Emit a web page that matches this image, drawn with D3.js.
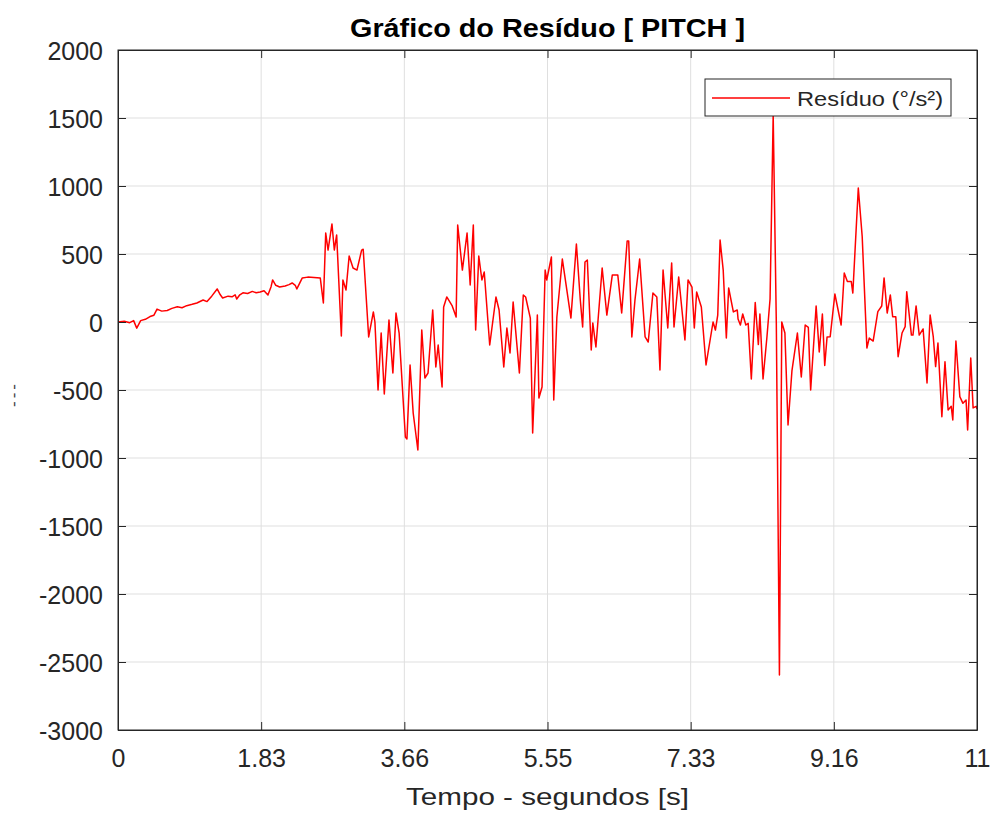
<!DOCTYPE html>
<html>
<head>
<meta charset="utf-8">
<script src="https://cdn.jsdelivr.net/npm/d3@7"></script>
<style>
  body { margin: 0; background: #fff; }
  svg { font-family: "Liberation Sans", Arial, sans-serif; }
  .grid line { stroke: #dfdfdf; stroke-width: 1; }
  .axis text { fill: #262626; font-size: 25px; }
</style>
</head>
<body>
<svg id="chart"></svg>
<script>
// time (s)
const timeS = [
  0, 0.08, 0.15, 0.20, 0.24, 0.29, 0.35, 0.41, 0.46, 0.50, 0.56, 0.63, 0.69, 0.76, 0.82, 0.88, 0.95, 1.01,
  1.09, 1.14, 1.20, 1.27, 1.31, 1.34, 1.41, 1.46, 1.50, 1.52, 1.56, 1.60, 1.66, 1.72, 1.77, 1.82, 1.87, 1.92,
  1.96, 1.98, 2.02, 2.07, 2.14, 2.19, 2.23, 2.27, 2.29, 2.33, 2.36, 2.43, 2.51, 2.59, 2.63, 2.66, 2.69, 2.74,
  2.77, 2.80, 2.86, 2.88, 2.92, 2.96, 3.01, 3.06, 3.12, 3.14, 3.21, 3.27, 3.29, 3.33, 3.37, 3.41, 3.47, 3.52,
  3.56, 3.60, 3.68, 3.70, 3.74, 3.78, 3.84, 3.89, 3.93, 3.97, 4.03, 4.07, 4.10, 4.15, 4.17, 4.21, 4.28, 4.33,
  4.35, 4.41, 4.47, 4.51, 4.55, 4.58, 4.62, 4.66, 4.69, 4.76, 4.84, 4.88, 4.94, 4.98, 5.02, 5.06, 5.14, 5.19,
  5.22, 5.28, 5.31, 5.37, 5.39, 5.43, 5.47, 5.49, 5.55, 5.58, 5.62, 5.69, 5.80, 5.87, 5.92, 5.95, 5.98, 6.01,
  6.06, 6.08, 6.12, 6.20, 6.26, 6.33, 6.40, 6.45, 6.52, 6.54, 6.58, 6.62, 6.68, 6.75, 6.79, 6.85, 6.90, 6.94,
  6.98, 7.04, 7.09, 7.12, 7.18, 7.26, 7.30, 7.35, 7.38, 7.41, 7.47, 7.53, 7.62, 7.65, 7.68, 7.71, 7.75, 7.79,
  7.82, 7.88, 7.93, 7.94, 7.97, 8.00, 8.04, 8.07, 8.11, 8.16, 8.20, 8.22, 8.26, 8.31, 8.35, 8.39, 8.43, 8.47,
  8.50, 8.54, 8.58, 8.63, 8.70, 8.75, 8.80, 8.84, 8.87, 8.94, 8.98, 9.02, 9.05, 9.08, 9.12, 9.18, 9.26, 9.30,
  9.34, 9.39, 9.41, 9.48, 9.53, 9.59, 9.62, 9.67, 9.73, 9.78, 9.81, 9.85, 9.89, 9.92, 9.96, 9.99, 10.04, 10.08,
  10.10, 10.16, 10.18, 10.22, 10.26, 10.31, 10.36, 10.40, 10.44, 10.47, 10.50, 10.55, 10.59, 10.63, 10.67,
  10.69, 10.73, 10.78, 10.82, 10.86, 10.88, 10.92, 10.95, 10.99, 11.00
];
// residual (°/s²)
const residuo = [
  0, 5, -5, 10, -45, 10, 20, 40, 50, 95, 80, 85, 100, 112, 105, 120, 130, 140,
  162, 150, 190, 243, 200, 177, 190, 185, 200, 169, 200, 215, 210, 225, 215, 221, 230, 198,
  260, 309, 270, 257, 265, 275, 287, 270, 243, 290, 324, 330, 328, 324, 140, 654, 529, 721,
  529, 640, -103, 309, 235, 485, 397, 382, 529, 535, -110, 74, 0, -500, -81, -529, 15, -375,
  66, -81, -845, -860, -316, -669, -941, -59, -412, -375, 88, -331, -169, -478, 110, 184, 118, 37,
  713, 382, 654, 272, 713, -59, 485, 309, 368, -169, 184, 88, -331, -44, -228, 147, -375, 198,
  184, 29, -816, 51, -559, -478, 382, 309, 478, -574, 37, 463, 29, 574, 162, -37, 441, 456,
  -206, -7, -184, 397, 51, 346, 346, 66, 596, 596, -110, 162, 463, -110, -147, 213, 184, -353,
  382, -44, 434, -37, 331, -132, 309, 257, -44, 221, 110, -316, 0, -59, 51, 603, 382, -118,
  250, 74, 88, 22, -22, 59, -22, -10, -419, 143, -166, 59, -419, -110, 169, 1522, 0, -2596,
  0, -81, -757, -360, -81, -404, -22, -40, -500, 118, -221, 59, -320, -110, -108, 206, -22, 360,
  297, 297, 213, 985, 627, -191, -118, -140, 76, 118, 324, 66, 199, 39, 39, -255, -81, -34,
  223, -96, -96, 118, -96, -51, -449, 51, -108, -328, -155, -696, -292, -647, -620,
  -720, -140, -549, -598, -574, -794, -265, -632, -620, -640
];

const xTickValues = [0, 11 / 6, 22 / 6, 33 / 6, 44 / 6, 55 / 6, 11];
const xTickLabels = ["0", "1.83", "3.66", "5.55", "7.33", "9.16", "11"];
const yTickValues = [-3000, -2500, -2000, -1500, -1000, -500, 0, 500, 1000, 1500, 2000];

const chartTitle = "Gráfico do Resíduo [ PITCH ]";
const xLabel = "Tempo - segundos [s]";
const yLabel = "---";
const seriesName = "Resíduo (°/s²)";

const config = {
  width: 995, height: 814,
  margin: {top: 50, right: 18, bottom: 84, left: 118}
};

const data = timeS.map((t, i) => ({t: t, v: residuo[i]}));

const svg = d3.select("#chart")
    .attr("width", config.width)
    .attr("height", config.height);

const w = config.width - config.margin.left - config.margin.right;
const h = config.height - config.margin.top - config.margin.bottom;

const chart = svg.append("g")
    .attr("transform", `translate(${config.margin.left},${config.margin.top})`);

const xScale = d3.scaleLinear().domain([0, 11]).range([0, w]);
const yScale = d3.scaleLinear().domain([-3000, 2000]).range([h, 0]);

// grid
const grid = chart.append("g").attr("class", "grid");
grid.selectAll("line.gx").data(xTickValues.slice(1, -1)).join("line")
    .attr("class", "gx")
    .attr("x1", d => xScale(d)).attr("x2", d => xScale(d))
    .attr("y1", 0).attr("y2", h);
grid.selectAll("line.gy").data(yTickValues.slice(1, -1)).join("line")
    .attr("class", "gy")
    .attr("x1", 0).attr("x2", w)
    .attr("y1", d => yScale(d)).attr("y2", d => yScale(d));

// series
const line = d3.line().x(d => xScale(d.t)).y(d => yScale(d.v));
chart.append("path")
    .datum(data)
    .attr("fill", "none")
    .attr("stroke", "#ff0000")
    .attr("stroke-width", 1.5)
    .attr("stroke-linejoin", "round")
    .attr("d", line);

// axes, ticks pointing inward like matlab
const xAxis = d3.axisBottom(xScale).tickValues(xTickValues)
    .tickFormat((d, i) => xTickLabels[i]).tickSizeInner(-8).tickSizeOuter(0).tickPadding(19);
const yAxis = d3.axisLeft(yScale).tickValues(yTickValues)
    .tickFormat(d => String(d)).tickSizeInner(-8).tickSizeOuter(0).tickPadding(15);

const xAxisG = chart.append("g").attr("class", "axis")
    .attr("transform", `translate(0,${h})`).call(xAxis);
const yAxisG = chart.append("g").attr("class", "axis").call(yAxis);
chart.append("g").attr("class", "axis")
    .call(d3.axisTop(xScale).tickValues(xTickValues).tickFormat("").tickSizeInner(-8).tickSizeOuter(0));
chart.append("g").attr("class", "axis")
    .attr("transform", `translate(${w},0)`)
    .call(d3.axisRight(yScale).tickValues(yTickValues).tickFormat("").tickSizeInner(-8).tickSizeOuter(0));
chart.selectAll(".axis path.domain").attr("stroke", "#262626");
chart.selectAll(".axis .tick line").attr("stroke", "#262626");
chart.selectAll(".axis").attr("font-family", null);
yAxisG.selectAll("text").attr("dy", "0.36em");

// frame
chart.append("rect")
    .attr("width", w).attr("height", h)
    .attr("fill", "none").attr("stroke", "#262626").attr("stroke-width", 1);

// title and labels
svg.append("text")
    .attr("x", config.margin.left + w / 2).attr("y", 37)
    .attr("text-anchor", "middle")
    .attr("font-size", 26).attr("font-weight", "bold").attr("fill", "#000")
    .attr("textLength", 395).attr("lengthAdjust", "spacingAndGlyphs")
    .text(chartTitle);
svg.append("text")
    .attr("x", config.margin.left + w / 2).attr("y", 805)
    .attr("text-anchor", "middle")
    .attr("font-size", 24).attr("fill", "#262626")
    .attr("textLength", 283).attr("lengthAdjust", "spacingAndGlyphs")
    .text(xLabel);
svg.append("text")
    .attr("transform", "translate(19,394) rotate(-90)")
    .attr("text-anchor", "middle")
    .attr("font-size", 17).attr("fill", "#444")
    .attr("letter-spacing", 3)
    .text(yLabel);

// legend
const legend = chart.append("g").attr("transform", `translate(${w - 272},${29})`);
legend.append("rect")
    .attr("width", 246).attr("height", 37)
    .attr("fill", "#fff").attr("stroke", "#262626").attr("stroke-width", 1);
legend.append("line")
    .attr("x1", 7).attr("x2", 85).attr("y1", 19).attr("y2", 19)
    .attr("stroke", "#ff0000").attr("stroke-width", 1.5);
legend.append("text")
    .attr("x", 92).attr("y", 27)
    .attr("font-size", 21).attr("fill", "#262626")
    .attr("textLength", 146).attr("lengthAdjust", "spacingAndGlyphs")
    .text(seriesName);
</script>
</body>
</html>
